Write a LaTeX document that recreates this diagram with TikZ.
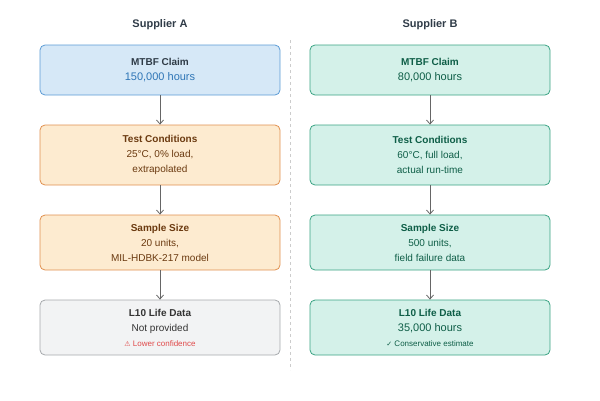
\documentclass[tikz,border=0pt]{standalone}
\usepackage{fontspec}
\setmainfont{Liberation Sans}
\newfontfamily\symf{DejaVu Sans}
\usetikzlibrary{arrows.meta}
\definecolor{bfill}{HTML}{D6E8F7}\definecolor{bdraw}{HTML}{5B9BD5}\definecolor{btxt}{HTML}{2E75B6}
\definecolor{ofill}{HTML}{FDEBD0}\definecolor{odraw}{HTML}{E0904F}\definecolor{otxt}{HTML}{6B3A10}
\definecolor{gfill}{HTML}{F2F3F4}\definecolor{gdraw}{HTML}{A6A9AD}\definecolor{gtxt}{HTML}{333333}
\definecolor{tfill}{HTML}{D4F1E9}\definecolor{tdraw}{HTML}{3AA383}\definecolor{ttxt}{HTML}{0E5E47}
\definecolor{warn}{HTML}{E04A4A}\definecolor{hd}{HTML}{2F3B47}
\begin{document}
\begin{tikzpicture}[x=1pt,y=-1pt,
 box/.style={draw,rounded corners=5pt,line width=0.8pt,minimum width=240pt,align=center,font=\fontsize{10}{15}\selectfont},
 bA/.style={box,fill=bfill,draw=bdraw,text=hd},
 bO/.style={box,fill=ofill,draw=odraw,text=otxt},
 bG/.style={box,fill=gfill,draw=gdraw,text=gtxt},
 bT/.style={box,fill=tfill,draw=tdraw,text=ttxt},
 arr/.style={draw=gray!80!black,line width=0.8pt,-{Straight Barb[length=4pt,width=7pt]}},
 hdr/.style={font=\fontsize{11}{13}\selectfont\bfseries,text=hd}]
\useasboundingbox (0,0) rectangle (600,400);
\draw[gray!40,dashed,line width=0.8pt] (290,40) -- (290,370);
\node[hdr] (hA) at (160,25) {Supplier A};
\node[hdr] (hB) at (430,25) {Supplier B};
\node[bA,minimum height=50pt] (a1) at (160,70) {\textbf{MTBF Claim}\\\color{btxt}\fontsize{11}{15}\selectfont 150,000 hours};
\node[bO,minimum height=60pt] (a2) at (160,155) {\textbf{Test Conditions}\\25°C, 0\% load,\\extrapolated};
\node[bO,minimum height=55pt] (a3) at (160,242.5) {\textbf{Sample Size}\\20 units,\\MIL-HDBK-217 model};
\node[bG,minimum height=55pt] (a4) at (160,327.5) {\textbf{L10 Life Data}\\Not provided\\\color{warn}\fontsize{8}{10}\selectfont{\symf\fontsize{7}{10}\selectfont ⚠} Lower confidence};
\node[bT,minimum height=50pt] (b1) at (430,70) {\textbf{MTBF Claim}\\\fontsize{11}{15}\selectfont 80,000 hours};
\node[bT,minimum height=60pt] (b2) at (430,155) {\textbf{Test Conditions}\\60°C, full load,\\actual run-time};
\node[bT,minimum height=55pt] (b3) at (430,242.5) {\textbf{Sample Size}\\500 units,\\field failure data};
\node[bT,minimum height=55pt] (b4) at (430,327.5) {\textbf{L10 Life Data}\\\fontsize{11}{15}\selectfont 35,000 hours\\\fontsize{8}{10}\selectfont{\symf\fontsize{7}{10}\selectfont ✓} Conservative estimate};
\foreach \u/\v in {a1/a2,a2/a3,a3/a4,b1/b2,b2/b3,b3/b4} \draw[arr] (\u) -- (\v);
\end{tikzpicture}
\end{document}
